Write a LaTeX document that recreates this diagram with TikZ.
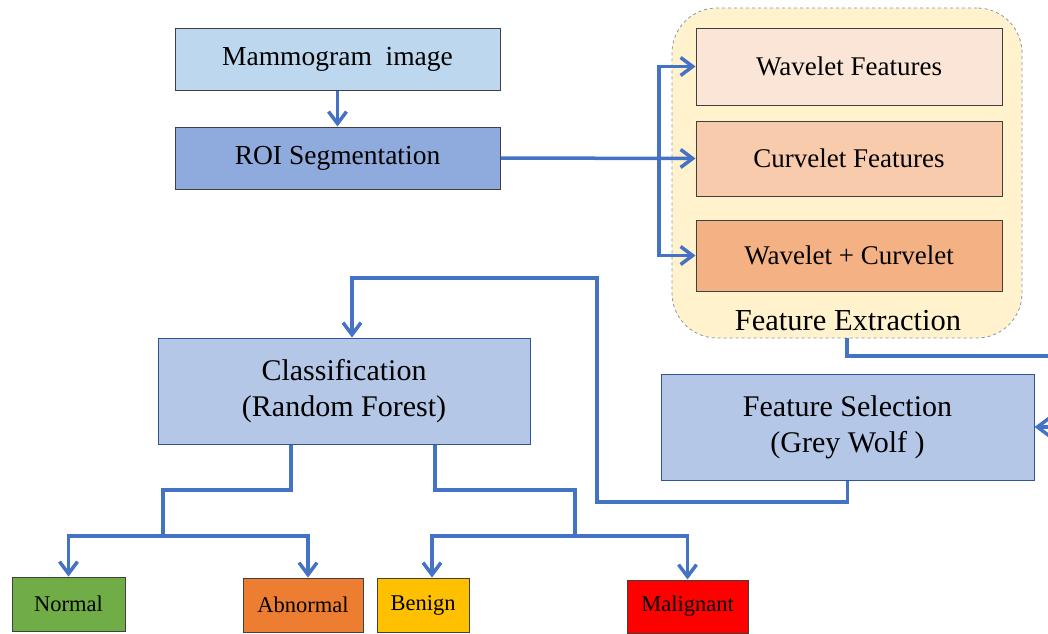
\documentclass[tikz,border=0pt]{standalone}
\usepackage{fontspec}
\setmainfont{Liberation Serif}
\usepackage{tikz}
\usetikzlibrary{arrows.meta}
\definecolor{linkblue}{HTML}{4472C4}
\definecolor{boxline}{HTML}{404040}
\definecolor{clsline}{HTML}{2F5597}
\definecolor{mammofill}{HTML}{BDD7EE}
\definecolor{roifill}{HTML}{8FAADC}
\definecolor{stepfill}{HTML}{B4C7E7}
\definecolor{fefill}{HTML}{FFF2CC}
\definecolor{feline}{HTML}{8497B0}
\definecolor{wavfill}{HTML}{FBE5D6}
\definecolor{curvfill}{HTML}{F8CBAD}
\definecolor{wcfill}{HTML}{F4B183}
\definecolor{normfill}{HTML}{70AD47}
\definecolor{abnfill}{HTML}{ED7D31}
\definecolor{benfill}{HTML}{FFC000}
\definecolor{malfill}{HTML}{FF0000}

\begin{document}
\begin{tikzpicture}[x=1pt, y=-1pt,
    box/.style={draw=boxline, line width=1pt, inner sep=0pt, align=center},
    bigbox/.style={draw=clsline, line width=1pt, inner sep=0pt, align=center,
        fill=stepfill, font=\fontsize{30}{36}\selectfont},
    leaf/.style={draw=boxline, line width=1pt, inner sep=0pt,
        font=\fontsize{22.5}{26}\selectfont},
    wire/.style={draw=linkblue, line width=3.5pt},
    link/.style={wire, -{Straight Barb[length=12pt,width=18pt]}}]
    \clip (0,0) rectangle (1048,633);
    \node[box, fill=mammofill, minimum width=325, minimum height=62,
        font=\fontsize{27.5}{32}\selectfont] (mammo) at (337.5,59) {Mammogram\ \ image};
    \node[box, fill=roifill, minimum width=325, minimum height=62,
        font=\fontsize{27.5}{32}\selectfont] (roi) at (337.5,158) {ROI Segmentation};
    \node[draw=feline, dashed, line width=0.8pt, fill=fefill, rounded corners=45,
        minimum width=350, minimum height=330] (fe) at (847,173) {};
    \node[box, fill=wavfill, minimum width=306, minimum height=77,
        font=\fontsize{27}{32}\selectfont] (wav) at (849,66.5) {Wavelet Features};
    \node[box, fill=curvfill, minimum width=306, minimum height=75,
        font=\fontsize{27}{32}\selectfont] (curv) at (849,158.5) {Curvelet Features};
    \node[box, fill=wcfill, minimum width=306, minimum height=71,
        font=\fontsize{27}{32}\selectfont] (wc) at (849,255.5) {Wavelet + Curvelet};
    \node[font=\fontsize{30.5}{36}\selectfont] (felabel) at (848,321) {Feature Extraction};
    \node[bigbox, minimum width=373, minimum height=106] (fs) at (847.5,427)
        {Feature Selection\\(Grey Wolf )};
    \node[bigbox, minimum width=372, minimum height=106] (cls) at (344,391)
        {Classification\\(Random Forest)};
    \node[leaf, fill=normfill, minimum width=113, minimum height=54] (normal) at (68.5,604) {Normal};
    \node[leaf, fill=abnfill, minimum width=120, minimum height=54] (abn) at (303,605) {Abnormal};
    \node[leaf, fill=benfill, minimum width=92, minimum height=54] (ben) at (423,605) {Benign};
    \node[leaf, fill=malfill, minimum width=121, minimum height=53] (mal) at (687.5,606.5) {Malignant};

    \draw[link] (mammo) -- (roi);
    \draw[link] (roi.east) -- (curv.west);
    \coordinate (split) at (659,158);
    \draw[link] (split) |- (wav.west);
    \draw[link] (split) |- (wc.west);
    \coordinate (r1) at (1050,356);
    \draw[link] (fe.south) |- (r1) |- (fs.east);
    \coordinate (b1) at (597,502);
    \coordinate (b2) at (352,278);
    \draw[link] (fs.south) |- (b1) |- (b2) -- (b2 |- cls.north);
    \coordinate (ta) at (291,490);
    \coordinate (tb) at (163,536);
    \draw[wire] (ta |- cls.south) -- (ta) -| (tb);
    \draw[link] (tb) -| (normal.north);
    \draw[link] (tb) -| ([xshift=5]abn.north);
    \coordinate (tc) at (435,490);
    \coordinate (td) at (575,536);
    \draw[wire] (tc |- cls.south) -- (tc) -| (td);
    \draw[link] (td) -| ([xshift=9]ben.north);
    \draw[link] (td) -| (mal.north);
\end{tikzpicture}
\end{document}
